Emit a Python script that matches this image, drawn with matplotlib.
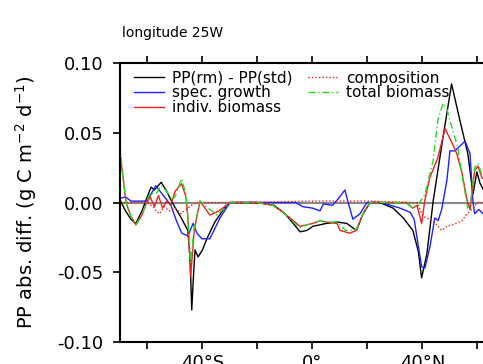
import numpy as np
import matplotlib
matplotlib.use("Agg")
import matplotlib.pyplot as plt

# latitude (deg, negative = south) and PP differences
lat_pp = [-70, -68, -66, -64.2, -62, -60.5, -58.7, -57.5, -55, -53, -51.5, -50, -48,
          -46.4, -45.3, -44.5, -43.9, -43.2, -42.7, -41.6, -40, -38.4, -35.5, -32, -30,
          -20, -14, -10, -7, -4.5, -2, 0.2, 2.7, 5, 8.9, 12.5, 16, 18.4, 21, 24.5, 29.3,
          33, 36.5, 38.5, 39.7, 41.6, 43.9, 47.5, 50.6, 53.6, 56.5, 58.4, 59.8, 60.9, 63]
pp_diff = [0.002, -0.006, -0.012, -0.015, -0.006, 0.002, 0.011, 0.009, 0.0145, 0.008,
           0.002, -0.0035, -0.01, -0.016, -0.02, -0.04, -0.077, -0.05, -0.034, -0.039,
           -0.034, -0.026, -0.014, -0.004, 0.0, 0.0, -0.002, -0.008, -0.015, -0.021,
           -0.02, -0.017, -0.016, -0.015, -0.014, -0.015, -0.02, -0.008, 0.0, 0.0,
           -0.004, -0.011, -0.02, -0.035, -0.054, -0.037, 0.001, 0.047, 0.085, 0.059,
           0.035, 0.006, 0.022, 0.014, 0.006]

lat_sg = [-70, -68, -66, -63, -60, -59, -57, -55, -53, -51.5, -49.3, -47.5, -45.3, -43.4,
          -42, -40.2, -37.3, -33.6, -30, -20, -10, -6, -3.5, 0, 2.7, 4, 7.3, 9.5, 11.8,
          13, 14.7, 17.3, 19.8, 25, 31.8, 35.5, 37, 38, 39.7, 40.9, 42.7, 44.5, 45.7, 47,
          48.9, 50, 51.8, 55.5, 57.3, 58.4, 59, 60.5, 63]
spec_growth = [0.003, 0.004, 0.001, 0.001, 0.001, 0.005, 0.012, 0.007, 0.002, -0.002,
               -0.014, -0.022, -0.024, -0.015, -0.022, -0.026, -0.026, -0.011, 0.0, 0.0,
               0.0, 0.0, -0.003, -0.004, -0.006, -0.001, -0.002, 0.003, 0.009, 0.0,
               -0.012, -0.008, 0.0, 0.0, -0.004, -0.007, -0.012, -0.025, -0.046, -0.047,
               -0.032, -0.011, -0.013, -0.005, 0.016, 0.037, 0.037, 0.044, 0.035, 0.0,
               -0.008, -0.005, -0.01]

lat_ib = [-70, -69, -67.8, -66, -64.2, -62, -60.5, -59, -57.5, -56, -54.5, -53, -51.5,
          -50, -47.6, -46, -45.3, -44.3, -43, -40.9, -37.3, -34, -30, -20, -14.4, -10,
          -7, -4.5, -2, 0.2, 2.7, 5, 8.9, 10, 13.6, 16, 18.4, 21, 24.5, 34, 36.5, 38,
          39.7, 40.9, 42.7, 45.6, 48.2, 50.7, 52.5, 54.4, 56.2, 57.3, 59, 60.2, 61.6, 63]
indiv_biomass = [0.035, 0.02, 0.0, -0.01, -0.016, -0.009, -0.001, 0.004, -0.003, 0.005,
                 -0.004, 0.001, -0.002, 0.008, 0.0135, 0.004, -0.011, -0.053, -0.02,
                 0.001, -0.009, -0.006, 0.0, 0.0, -0.002, -0.008, -0.013, -0.017, -0.016,
                 -0.015, -0.013, -0.014, -0.015, -0.02, -0.022, -0.02, -0.008, 0.0, 0.0,
                 0.0, -0.004, -0.002, -0.015, 0.002, 0.018, 0.032, 0.053, 0.043, 0.035,
                 0.021, 0.002, -0.005, 0.023, 0.026, 0.018, 0.015]

lat_cp = [-70, -60, -58, -56.5, -55.5, -54, -52, -50, -47.8, -46, -44, -42, -30, 0, 20,
          36, 38, 40.2, 43.9, 47, 48.9, 51, 54.4, 56.2, 58, 60, 63]
composition = [0.0, 0.0, -0.003, -0.007, -0.008, -0.003, -0.006, -0.004, -0.008, -0.005,
               -0.002, 0.0, 0.0, 0.001, 0.001, 0.0, 0.0, -0.01, -0.013, -0.02, -0.017,
               -0.016, -0.013, -0.008, -0.005, 0.0, 0.0]

lat_tb = [-70, -69, -67.8, -66, -64.2, -62, -60.5, -59, -57, -55, -53, -51, -50, -47.6,
          -46, -45.3, -44.3, -43, -40.9, -38, -34.7, -32, -30, -20, -14.4, -10, -7, -4.5,
          -2, 0.2, 2.7, 5, 8.9, 12, 14, 16, 18.4, 21, 24.5, 34, 36.5, 39, 40.9, 43.9,
          45.6, 47.5, 48.9, 50.7, 52.9, 54.7, 56.5, 57.5, 59, 60.2, 61.6, 63]
total_biomass = [0.042, 0.02, 0.0, -0.01, -0.016, -0.009, 0.0, 0.007, 0.006, 0.012,
                 0.008, 0.002, 0.004, 0.017, 0.006, -0.01, -0.043, -0.018, 0.001, -0.004,
                 -0.009, -0.004, 0.0, 0.0, -0.002, -0.008, -0.014, -0.018, -0.016,
                 -0.015, -0.013, -0.014, -0.014, -0.02, -0.02, -0.019, -0.008, 0.0, 0.0,
                 0.0, -0.004, 0.0, 0.006, 0.03, 0.059, 0.071, 0.067, 0.054, 0.039, 0.016,
                 -0.004, 0.0, 0.025, 0.028, 0.02, 0.016]

xticks = [-60, -40, -20, 0, 20, 40, 60]
xticklabels = ["", "40°S", "", "0°", "", "40°N", ""]
yticks = [-0.10, -0.05, 0.0, 0.05, 0.10]

fig = plt.figure(figsize=(4.83, 3.64), dpi=100)
ax = fig.add_axes([0.2484, 0.0604, 0.797, 0.7665])

ax.axhline(0, color="#888888", lw=1.5, zorder=1)
ax.plot(lat_pp, pp_diff, color="black", lw=1.0, label="PP(rm) - PP(std)")
ax.plot(lat_sg, spec_growth, color="#2020ff", lw=1.0, label="spec. growth")
ax.plot(lat_ib, indiv_biomass, color="#ee2020", lw=1.0, label="indiv. biomass")
ax.plot(lat_cp, composition, color="#ee2020", lw=1.0, ls=(0, (1, 1.5)), label="composition")
ax.plot(lat_tb, total_biomass, color="#22dd22", lw=1.0, ls=(0, (5, 2, 1, 2)), label="total biomass")

ax.set_xlim(-70, 70)
ax.set_ylim(-0.10, 0.10)
ax.set_xticks(xticks)
ax.set_xticklabels(xticklabels)
ax.set_yticks(yticks)
ax.set_yticklabels(["%.2f" % v if v != 0 else "0.00" for v in yticks])
ax.tick_params(axis="both", direction="out", length=5, width=1.2, labelsize=13,
               top=True, right=True)
ax.tick_params(axis="y", pad=7)
for s in ax.spines.values():
    s.set_linewidth(1.5)

ax.set_ylabel("PP abs. diff. (g C m$^{-2}$ d$^{-1}$)", fontsize=14)
ax.yaxis.set_label_coords(-0.21, 0.5)

ax.legend(loc="upper left", ncol=2, frameon=False, fontsize=11, handlelength=2.0,
          handletextpad=0.5, columnspacing=1.0, labelspacing=-0.02,
          borderaxespad=0.0, bbox_to_anchor=(0.02, 0.995))

fig.text(122 / 483, 1 - 37 / 364, "longitude 25W", fontsize=10, va="baseline")

fig.savefig("out.png", dpi=100)
